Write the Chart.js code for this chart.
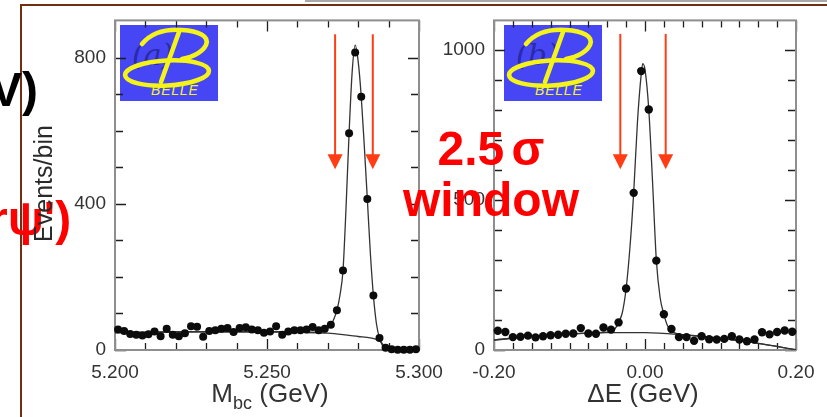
<!DOCTYPE html>
<html>
<head>
<meta charset="utf-8">
<script src="https://cdn.jsdelivr.net/npm/chart.js@4.4.1/dist/chart.umd.min.js"></script>
<style>
html,body{margin:0;padding:0;background:#fff;}
#wrap{position:relative;width:827px;height:417px;overflow:hidden;background:#fff;font-family:"Liberation Sans",Arial,sans-serif;}
canvas{position:absolute;left:0;top:0;}
.t{position:absolute;white-space:nowrap;line-height:1;}
.logo{position:absolute;}
.red{color:#ff0000;font-weight:bold;}
</style>
</head>
<body>
<div id="wrap">
  <div style="position:absolute;left:305px;top:0;width:530px;height:2px;background:#a8a8a8;"></div>
  <div style="position:absolute;left:20px;top:4px;width:820px;height:2px;background:#6e2f12;"></div>
  <div style="position:absolute;left:20px;top:4px;width:2px;height:420px;background:#6e2f12;"></div>

  <svg class="logo" style="left:120px;top:25px" width="98" height="76" viewBox="0 0 98 76">
    <rect width="98" height="76" fill="#4646f4"/>
    <text x="12" y="40" font-family="DejaVu Serif" font-style="italic" font-size="30" fill="#2a2aa8">(a)</text>
    <g fill="none" stroke="#f4f41a" stroke-width="4.6" stroke-linecap="round">
      <ellipse cx="47" cy="48" rx="42" ry="12.5" transform="rotate(-3 47 48)"/>
      <path d="M22 19 C32 7, 48 4, 62 5 C78 6, 90 11, 86 20 C82 28, 72 32, 62 34"/>
      <path d="M59 7 L41 57"/>
    </g>
    <text x="31" y="70" font-family="Liberation Sans" font-style="italic" font-size="14" fill="#f4f41a" letter-spacing="0.8">BELLE</text>
  </svg>
  <svg class="logo" style="left:504px;top:25px" width="98" height="76" viewBox="0 0 98 76">
    <rect width="98" height="76" fill="#4646f4"/>
    <text x="12" y="40" font-family="DejaVu Serif" font-style="italic" font-size="30" fill="#2a2aa8">(b)</text>
    <g fill="none" stroke="#f4f41a" stroke-width="4.6" stroke-linecap="round">
      <ellipse cx="47" cy="48" rx="42" ry="12.5" transform="rotate(-3 47 48)"/>
      <path d="M22 19 C32 7, 48 4, 62 5 C78 6, 90 11, 86 20 C82 28, 72 32, 62 34"/>
      <path d="M59 7 L41 57"/>
    </g>
    <text x="31" y="70" font-family="Liberation Sans" font-style="italic" font-size="14" fill="#f4f41a" letter-spacing="0.8">BELLE</text>
  </svg>

  <canvas id="c1" width="827" height="417"></canvas>
  <canvas id="c2" width="827" height="417"></canvas>

  <div class="t" style="left:-10px;top:66px;font-size:48px;font-weight:bold;color:#000;">V)</div>
  <div class="t red" style="left:-11px;top:195px;font-size:48px;">rψ')</div>
  <div class="t" style="left:-16px;top:171px;width:118px;text-align:center;font-size:25px;color:#2a2a2a;transform:rotate(-90deg);transform-origin:50% 50%;">Events/bin</div>
  <div class="t red" style="left:391px;top:125px;width:200px;text-align:center;font-size:48px;word-spacing:-6px;">2.5 σ</div>
  <div class="t red" style="left:391px;top:176px;width:200px;text-align:center;font-size:48px;">window</div>
  <div class="t" style="left:170px;top:380px;width:200px;text-align:center;font-size:26px;color:#333;">M<span style="font-size:18px;position:relative;top:7px;">bc</span> (GeV)</div>
  <div class="t" style="left:543px;top:380px;width:200px;text-align:center;font-size:26px;color:#333;">ΔE (GeV)</div>
</div>
<script>
// ---------------- data: M_bc panel ----------------
const mbcBins = [5.201,5.203,5.205,5.207,5.209,5.211,5.213,5.215,5.217,5.219,
  5.221,5.223,5.225,5.227,5.229,5.231,5.233,5.235,5.237,5.239,
  5.241,5.243,5.245,5.247,5.249,5.251,5.253,5.255,5.257,5.259,
  5.261,5.263,5.265,5.267,5.269,5.271,5.273,5.275,5.277,5.279,
  5.281,5.283,5.285,5.287,5.289,5.291,5.293,5.295,5.297,5.299];
const mbcEvents = [56,52,44,42,40,43,51,38,58,42,
  38,46,65,64,36,52,54,58,60,49,
  60,62,56,54,47,51,65,42,51,54,
  54,56,63,54,58,69,109,218,594,815,
  694,414,149,33,6,2,1,1,1,2];
const mbcFitX = [5.200,5.210,5.220,5.230,5.240,5.250,5.260,5.265,5.268,5.270,5.271,5.272,5.273,5.274,5.275,5.276,5.277,5.278,5.279,5.280,5.281,5.282,5.283,5.284,5.285,5.286,5.287,5.288,5.289,5.290,5.300];
const mbcFitY = [48,49,50,50,50,50,49,48,52,60,68,85,109,150,218,390,594,760,835,790,694,560,414,265,149,72,33,12,1,0,0];
const mbcBkgX = [5.200,5.220,5.240,5.255,5.265,5.270,5.275,5.280,5.284,5.286,5.287,5.288,5.2885,5.289];
const mbcBkgY = [48,49,50,50,48,46,42,37,33,29,25,17,10,0];
const mbcWindow = [5.2724,5.2848];
const mbcArrowFromTo = [865,495];
const mbcXTicks = [5.200,5.250,5.300];
const mbcXLabels = ['5.200','5.250','5.300'];
const mbcXMinor = [5.21,5.22,5.23,5.24,5.26,5.27,5.28,5.29];
const mbcYTicks = [0,400,800];
const mbcYLabels = ['0','400','800'];
const mbcYMinor = [100,200,300,500,600,700];

// ---------------- data: Delta E panel ----------------
const deBins = [-0.195,-0.185,-0.175,-0.165,-0.155,-0.145,-0.135,-0.125,-0.115,-0.105,
  -0.095,-0.085,-0.075,-0.065,-0.055,-0.045,-0.035,-0.025,-0.015,-0.005,
  0.005,0.015,0.025,0.035,0.045,0.055,0.065,0.075,0.085,0.095,
  0.105,0.115,0.125,0.135,0.145,0.155,0.165,0.175,0.185,0.195];
const deEvents = [64,60,43,44,48,42,46,49,51,54,
  55,73,55,54,75,68,92,205,524,930,
  802,298,119,70,43,43,31,46,36,35,
  37,46,35,29,35,59,52,60,65,61];
const deFitX = [-0.2,-0.15,-0.1,-0.06,-0.045,-0.04,-0.035,-0.03,-0.025,-0.02,-0.015,-0.01,-0.005,-0.003,0.0,0.005,0.01,0.015,0.02,0.025,0.03,0.035,0.04,0.05,0.1,0.15,0.2];
const deFitY = [33,46,54,58,62,70,92,125,205,340,524,760,920,955,935,802,560,300,175,119,80,65,56,51,39,22,1];
const deBkgX = [-0.2,-0.15,-0.1,-0.05,0.0,0.05,0.1,0.15,0.2];
const deBkgY = [33,46,54,58,58,51,39,22,1];
const deWindow = [-0.0327,0.0274];
const deArrowFromTo = [1054,603];
const deXTicks = [-0.2,0,0.2];
const deXLabels = ['-0.20','0.00','0.20'];
const deXMinor = [-0.175,-0.15,-0.125,-0.1,-0.075,-0.05,-0.025,0.025,0.05,0.075,0.1,0.125,0.15,0.175];
const deYTicks = [0,500,1000];
const deYLabels = ['0','500','1000'];
const deYMinor = [100,200,300,400,600,700,800,900];

function zip(xs, ys){ return xs.map((v,i)=>({x:v, y:ys[i]})); }

function makePlugin(s){
  return {
    id: 'frameTicks_' + s.id,
    beforeDatasetsDraw(chart){
      const ctx = chart.ctx, a = chart.chartArea, xs = chart.scales.x, ys = chart.scales.y;
      ctx.save();
      ctx.strokeStyle = '#1e1e1e';
      ctx.lineWidth = 1.3;
      ctx.beginPath();
      const vt = (vals, len) => vals.forEach(v => {
        const px = Math.round(xs.getPixelForValue(v)) + 0.5;
        ctx.moveTo(px, a.bottom); ctx.lineTo(px, a.bottom - len);
        ctx.moveTo(px, a.top); ctx.lineTo(px, a.top + len);
      });
      const ht = (vals, len) => vals.forEach(v => {
        const py = Math.round(ys.getPixelForValue(v)) + 0.5;
        ctx.moveTo(a.left, py); ctx.lineTo(a.left + len, py);
        ctx.moveTo(a.right, py); ctx.lineTo(a.right - len, py);
      });
      vt(s.xTicks, 11); vt(s.xMinor, 7);
      ht(s.yTicks, 11); ht(s.yMinor, 8);
      ctx.stroke();
      ctx.strokeStyle = '#8e8e8e';
      ctx.lineWidth = 2;
      ctx.strokeRect(a.left, a.top, a.right - a.left, a.bottom - a.top);
      ctx.restore();
    },
    afterDatasetsDraw(chart){
      const ctx = chart.ctx, xs = chart.scales.x, ys = chart.scales.y;
      ctx.save();
      ctx.strokeStyle = '#ff3c14';
      ctx.fillStyle = '#ff3c14';
      ctx.lineWidth = 2;
      s.win.forEach(v => {
        const px = xs.getPixelForValue(v);
        const top = ys.getPixelForValue(s.arrow[0]);
        const tip = ys.getPixelForValue(s.arrow[1]);
        const hh = 15, hw = 7.5;
        ctx.beginPath(); ctx.moveTo(px, top); ctx.lineTo(px, tip - hh + 1); ctx.stroke();
        ctx.beginPath(); ctx.moveTo(px - hw, tip - hh); ctx.lineTo(px + hw, tip - hh); ctx.lineTo(px, tip); ctx.closePath(); ctx.fill();
      });
      ctx.restore();
    }
  };
}

function build(s){
  const tickFont = {family:'Liberation Sans', size:19};
  return new Chart(document.getElementById(s.id), {
    type: 'scatter',
    data: { datasets: [
      {data: zip(s.bx, s.by), showLine:false, pointRadius:s.r, pointHoverRadius:s.r, pointBackgroundColor:'#0c0c0c', pointBorderWidth:0, clip:false},
      {data: zip(s.fx, s.fy), showLine:true, pointRadius:0, borderColor:'#333', borderWidth:1.3, cubicInterpolationMode:'monotone', fill:false},
      {data: zip(s.gx, s.gy), showLine:true, pointRadius:0, borderColor:'#333', borderWidth:1.3, cubicInterpolationMode:'monotone', fill:false}
    ]},
    options: {
      responsive:false, animation:false, devicePixelRatio:1, events:[],
      layout: {padding: {left:s.padL, right:s.padR, top:18, bottom:27}},
      plugins: {legend:{display:false}, tooltip:{enabled:false}},
      scales: {
        x: {type:'linear', min:s.xmin, max:s.xmax,
            grid:{display:false, drawTicks:false}, border:{display:false},
            afterBuildTicks: sc => { sc.ticks = s.xTicks.map(v => ({value:v})); },
            afterFit: sc => { sc.height = 40; },
            ticks: {autoSkip:false, maxRotation:0, minRotation:0, padding:11, color:'#333', font:tickFont,
                    callback: (v, i) => s.xLabels[i]}},
        y: {type:'linear', min:0, max:s.ymax,
            grid:{display:false, drawTicks:false}, border:{display:false},
            afterBuildTicks: sc => { sc.ticks = s.yTicks.map(v => ({value:v})); },
            afterFit: sc => { sc.width = 60; },
            ticks: {autoSkip:false, padding:9, color:'#333', font:tickFont,
                    callback: (v, i) => s.yLabels[i]}}
      }
    },
    plugins: [makePlugin(s)]
  });
}

build({id:'c1', bx:mbcBins, by:mbcEvents, fx:mbcFitX, fy:mbcFitY, gx:mbcBkgX, gy:mbcBkgY,
  win:mbcWindow, arrow:mbcArrowFromTo, xTicks:mbcXTicks, xLabels:mbcXLabels, xMinor:mbcXMinor,
  yTicks:mbcYTicks, yLabels:mbcYLabels, yMinor:mbcYMinor, xmin:5.2, xmax:5.3, ymax:903,
  padL:55, padR:408, r:4.0});
build({id:'c2', bx:deBins, by:deEvents, fx:deFitX, fy:deFitY, gx:deBkgX, gy:deBkgY,
  win:deWindow, arrow:deArrowFromTo, xTicks:deXTicks, xLabels:deXLabels, xMinor:deXMinor,
  yTicks:deYTicks, yLabels:deYLabels, yMinor:deYMinor, xmin:-0.2, xmax:0.2, ymax:1099,
  padL:434, padR:31, r:4.2});
</script>
</body>
</html>
